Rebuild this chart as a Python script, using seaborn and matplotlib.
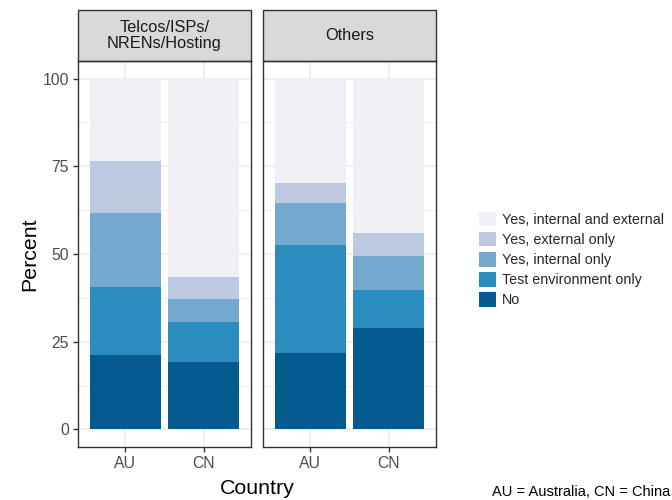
import pandas as pd
import matplotlib.pyplot as plt
import seaborn as sns
from matplotlib.patches import Patch, Rectangle

# values (percent of respondents per bar)
countries = ["AU", "CN"]
sectors = ["Telcos/ISPs/\nNRENs/Hosting", "Others"]
responses = ["No", "Test environment only", "Yes, internal only",
             "Yes, external only", "Yes, internal and external"]
telco_au = [21.2, 19.3, 21.2, 14.9, 23.4]
telco_cn = [19.2, 11.3, 6.6, 6.4, 56.5]
others_au = [21.7, 31.0, 11.9, 5.5, 29.9]
others_cn = [28.8, 10.9, 9.6, 6.8, 43.9]
y_ticks = [0, 25, 50, 75, 100]

palette = ["#045a8d", "#2b8cbe", "#74a9cf", "#bdc9e1", "#f1eef6"]

sns.set_style("white")
plt.rcParams['font.family'] = ['Liberation Sans', 'DejaVu Sans']

# --- build long table and cumulative tops for stacking ---
rows = []
for sector, by_country in zip(sectors, [[telco_au, telco_cn], [others_au, others_cn]]):
    for country, vals in zip(countries, by_country):
        for resp, v in zip(responses, vals):
            rows.append({"sector": sector, "country": country, "response": resp, "percent": v})
df = pd.DataFrame(rows)
df["top"] = df.groupby(["sector", "country"])["percent"].cumsum()

W, H = 672, 500
fig = plt.figure(figsize=(W / 100, H / 100), dpi=100)
panel_h = 386
strip_h = 51
axes = [fig.add_axes([78 / W, 53 / H, 173 / W, panel_h / H]),
        fig.add_axes([263 / W, 53 / H, 173 / W, panel_h / H])]

for i, (ax, sector) in enumerate(zip(axes, sectors)):
    sub = df[df["sector"] == sector]
    # draw tallest layer first so lower layers sit on top
    for resp, col in reversed(list(zip(responses, palette))):
        sns.barplot(data=sub[sub["response"] == resp], x="country", y="top",
                    order=countries, color=col, saturation=1, width=0.9,
                    errorbar=None, linewidth=0, ax=ax)
    ax.set_xlim(-0.6, 1.6)
    ax.set_ylim(-5, 105)
    ax.set_yticks(y_ticks)
    ax.set_yticks([12.5, 37.5, 62.5, 87.5], minor=True)
    ax.set_axisbelow(True)
    ax.grid(which="major", color="#EBEBEB", linewidth=1.1)
    ax.grid(which="minor", axis="y", color="#EBEBEB", linewidth=0.55)
    ax.set_xlabel("")
    ax.set_ylabel("")
    for sp in ax.spines.values():
        sp.set_visible(True)
        sp.set_color("#333333")
        sp.set_linewidth(1.0)
    ax.tick_params(which="major", length=3.5, width=1.0, color="#333333",
                   labelcolor="#4D4D4D", labelsize=11.3, pad=3,
                   bottom=True, left=(i == 0), labelleft=(i == 0))
    ax.tick_params(which="minor", length=0)

    # facet strip
    sh = strip_h / panel_h
    ax.add_patch(Rectangle((0, 1), 1, sh, transform=ax.transAxes, clip_on=False,
                           facecolor="#D9D9D9", edgecolor="#333333", linewidth=1.0))
    ax.text(0.5, 1 + sh / 2, sector, transform=ax.transAxes, ha="center", va="center",
            fontsize=11.8, color="#1A1A1A", linespacing=1.1)

fig.text(30 / W, 1 - 254 / H, "Percent", rotation=90, ha="center", va="center",
         fontsize=15.4, color="black")
fig.text(257 / W, 1 - 488 / H, "Country", ha="center", va="center",
         fontsize=15.4, color="black")
fig.text(670 / W, 1 - 492 / H, "AU = Australia, CN = China", ha="right", va="center",
         fontsize=10.5, color="black")

handles = [Patch(facecolor=c, edgecolor="none", label=r)
           for r, c in reversed(list(zip(responses, palette)))]
fig.legend(handles=handles, loc="center left", bbox_to_anchor=(479 / W, 1 - 259.5 / H),
           frameon=False, fontsize=10.3, handlelength=1.2, handleheight=1.2,
           handletextpad=0.42, labelspacing=0.35, borderpad=0, borderaxespad=0)

fig.savefig("out.png", dpi=100)
